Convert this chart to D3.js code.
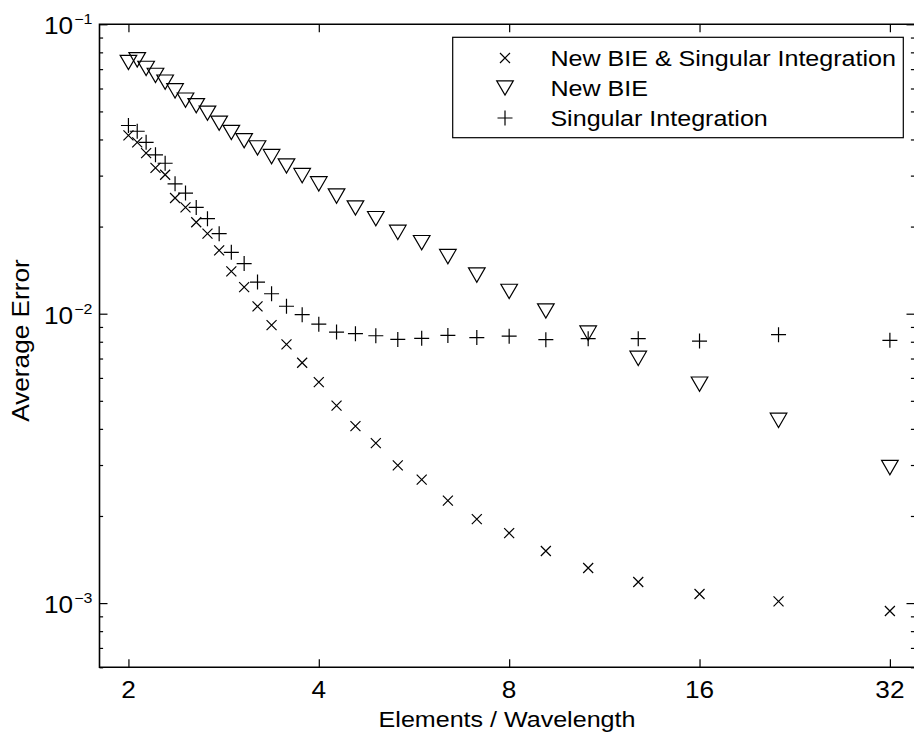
<!DOCTYPE html>
<html>
<head>
<meta charset="utf-8">
<script src="https://cdn.jsdelivr.net/npm/d3@7"></script>
<style>
  html, body { margin: 0; padding: 0; background: #fff; }
  svg { display: block; }
  text { font-family: "Liberation Sans", Arial, Helvetica, sans-serif; fill: #000; }
</style>
</head>
<body>
<svg id="chart" width="914" height="735"></svg>
<script>
// Mesh density (elements per wavelength) for each run
const elementsPerWavelength = [
  2, 2.065, 2.133, 2.207, 2.286, 2.370, 2.462, 2.56, 2.667, 2.783, 2.909,
  3.048, 3.2, 3.368, 3.556, 3.765, 4, 4.267, 4.571, 4.923, 5.333, 5.818,
  6.4, 7.111, 8, 9.143, 10.667, 12.8, 16, 21.333, 32
];

// Average error, new BIE combined with singular integration (×)
const errNewBieSingular = [
  0.0413, 0.0391, 0.0359, 0.0319, 0.0302, 0.0251, 0.0233, 0.0207, 0.0189, 0.01655, 0.0140,
  0.01236, 0.01060, 0.00913, 0.00783, 0.00677, 0.00580, 0.00481, 0.00409, 0.00357, 0.00299, 0.00267,
  0.00226, 0.00195, 0.001746, 0.001514, 0.001322, 0.001183, 0.001075, 0.001014, 0.000939
];

// Average error, new BIE only (▽)
const errNewBie = [
  0.0738, 0.0754, 0.0704, 0.0666, 0.0631, 0.0589, 0.0547, 0.0523, 0.0493, 0.0455, 0.0423,
  0.0396, 0.0374, 0.0349, 0.0324, 0.0300, 0.0281, 0.0255, 0.0232, 0.0213, 0.0191, 0.0176,
  0.01575, 0.0136, 0.01194, 0.01022, 0.00857, 0.00701, 0.00571, 0.00428, 0.00294
];

// Average error, singular integration only (+)
const errSingular = [
  0.0447, 0.0427, 0.0391, 0.0354, 0.0331, 0.0281, 0.0261, 0.0233, 0.0213, 0.0189, 0.0163,
  0.0149, 0.01286, 0.01172, 0.01061, 0.00992, 0.00920, 0.00864, 0.00853, 0.00839, 0.00815, 0.00822,
  0.00841, 0.00827, 0.00836, 0.00813, 0.00820, 0.00820, 0.00804, 0.00846, 0.00809
];

const xTickValues = [2, 4, 8, 16, 32];
const yDecadeValues = [1e-3, 1e-2, 1e-1];
const yDecadeExponents = ["\u22123", "\u22122", "\u22121"];
const seriesNames = ["New BIE & Singular Integration", "New BIE", "Singular Integration"];
const xAxisTitle = "Elements / Wavelength";
const yAxisTitle = "Average Error";

// ---- layout ----
const plot = { left: 99.5, right: 914.5, top: 24.3, bottom: 667.3 };
const SX = 1.14;          // horizontal stretch of the lettering
const svg = d3.select("#chart");

const x = d3.scaleLog().base(2).domain([1.8, 35]).range([plot.left, plot.right]);
const y = d3.scaleLog().base(10).domain([6e-4, 1e-1]).range([plot.bottom, plot.top]);

// minor ticks at 2..9 × each decade inside the domain
const yMinor = [];
[1e-4, 1e-3, 1e-2].forEach(d => {
  for (let m = 2; m <= 9; m++) {
    const v = m * d;
    if (v >= y.domain()[0] && v < y.domain()[1]) yMinor.push(v);
  }
});

function tickAxis(gen, transform, values, size) {
  const g = svg.append("g")
    .attr("transform", transform)
    .call(gen.tickValues(values).tickSizeInner(-size).tickSizeOuter(0).tickFormat(""));
  g.select(".domain").remove();
  g.selectAll(".tick line").attr("stroke", "#000").attr("stroke-width", 1.2);
  return g;
}

tickAxis(d3.axisBottom(x), `translate(0,${plot.bottom})`, xTickValues, 8);
tickAxis(d3.axisTop(x), `translate(0,${plot.top})`, xTickValues, 8);
tickAxis(d3.axisLeft(y), `translate(${plot.left},0)`, yDecadeValues, 8);
tickAxis(d3.axisLeft(y), `translate(${plot.left},0)`, yMinor, 3.6);
tickAxis(d3.axisRight(y), `translate(${plot.right},0)`, yDecadeValues, 8);
tickAxis(d3.axisRight(y), `translate(${plot.right},0)`, yMinor, 3.6);

// axes box: left, top and bottom edges (the right edge falls just past the canvas)
svg.append("path")
  .attr("d", `M${plot.right + 2},${plot.top}H${plot.left}V${plot.bottom}H${plot.right + 2}`)
  .attr("fill", "none").attr("stroke", "#000").attr("stroke-width", 1.6);

// x tick labels
svg.append("g").selectAll("g")
  .data(xTickValues)
  .join("g")
  .attr("transform", d => `translate(${x(d)},698.3) scale(${SX},1)`)
  .append("text")
  .attr("text-anchor", "middle")
  .attr("font-size", 23)
  .text(d => d);

// y tick labels: 10 with superscript exponent
const yl = svg.append("g").selectAll("g")
  .data(yDecadeValues)
  .join("g")
  .attr("transform", d => `translate(44,${y(d) + 10}) scale(${SX},1)`)
  .append("text")
  .attr("text-anchor", "start")
  .attr("font-size", 23);
yl.append("tspan").text("10");
yl.append("tspan")
  .attr("font-size", 14)
  .attr("dx", 1)
  .attr("dy", -10)
  .text((d, i) => yDecadeExponents[i]);

// axis titles
svg.append("g")
  .attr("transform", `translate(${(plot.left + plot.right) / 2},727) scale(${SX},1)`)
  .append("text")
  .attr("text-anchor", "middle")
  .attr("font-size", 22)
  .text(xAxisTitle);

svg.append("g")
  .attr("transform", `translate(29,340.5) rotate(-90) scale(${SX},1)`)
  .append("text")
  .attr("text-anchor", "middle")
  .attr("font-size", 23)
  .text(yAxisTitle);

// marker shapes
const markerPaths = {
  times: "M-5,-5L5,5M-5,5L5,-5",
  triangleDown: "M-8.3,-7.15H8.3L0,7.15Z",
  plus: "M-7.5,0H7.5M0,-7.5V7.5"
};

const series = [
  { name: seriesNames[0], values: errNewBieSingular, marker: markerPaths.times },
  { name: seriesNames[1], values: errNewBie, marker: markerPaths.triangleDown },
  { name: seriesNames[2], values: errSingular, marker: markerPaths.plus }
];

const marks = svg.append("g");
series.forEach(s => {
  marks.append("g").selectAll("path")
    .data(s.values.map((v, i) => [elementsPerWavelength[i], v]))
    .join("path")
    .attr("transform", d => `translate(${x(d[0])},${y(d[1])})`)
    .attr("d", s.marker)
    .attr("fill", "none")
    .attr("stroke", "#000")
    .attr("stroke-width", 1.2);
});

// legend
const legend = svg.append("g");
legend.append("rect")
  .attr("x", 452.7).attr("y", 37.3)
  .attr("width", 450.6).attr("height", 100.4)
  .attr("fill", "#fff").attr("stroke", "#000").attr("stroke-width", 1.2);

const rows = legend.selectAll("g.row")
  .data(series)
  .join("g")
  .attr("class", "row")
  .attr("transform", (d, i) => `translate(0,${58 + i * 30})`);

rows.append("path")
  .attr("transform", "translate(505,0)")
  .attr("d", d => d.marker)
  .attr("fill", "none")
  .attr("stroke", "#000")
  .attr("stroke-width", 1.2);

rows.append("g")
  .attr("transform", `translate(550.4,7.5) scale(${SX},1)`)
  .append("text")
  .attr("font-size", 22)
  .text(d => d.name);
</script>
</body>
</html>
